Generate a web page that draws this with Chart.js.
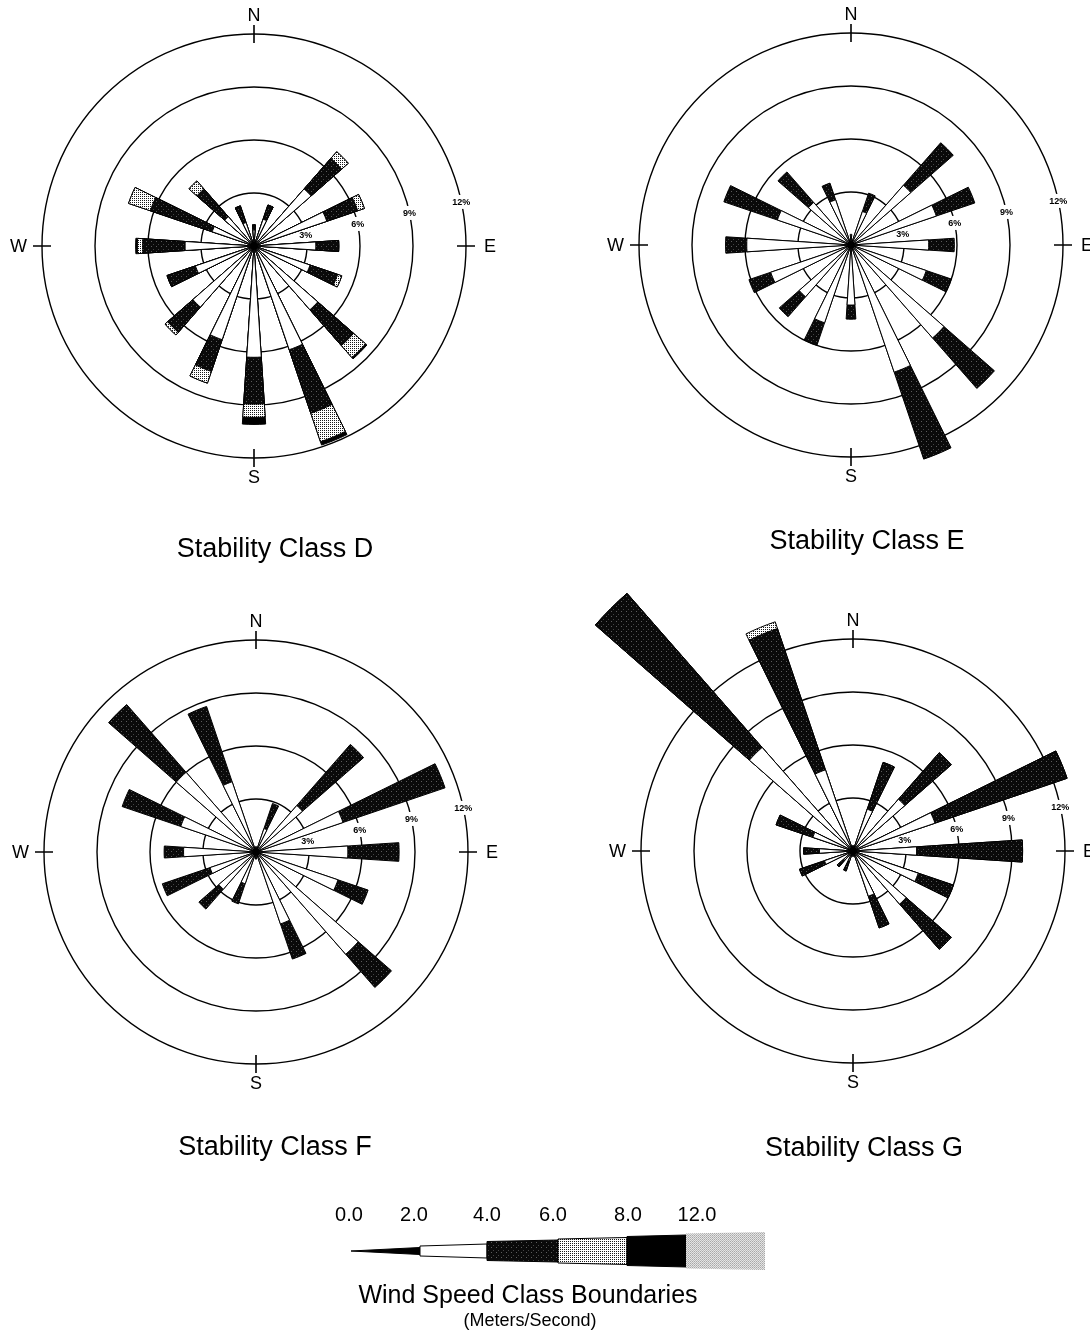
<!DOCTYPE html>
<html>
<head>
<meta charset="utf-8">
<script src="https://cdn.jsdelivr.net/npm/chart.js@4.4.1/dist/chart.umd.min.js"></script>
<style>
  html, body { margin: 0; padding: 0; background: #fff; }
  body { position: relative; width: 1090px; height: 1336px; overflow: hidden;
         font-family: "Liberation Sans", Arial, Helvetica, sans-serif; color: #000; }
  canvas { position: absolute; }
  .txt { position: absolute; transform: translate(-50%, -50%); white-space: nowrap; line-height: 1; }
  .title { font-size: 27px; }
  .num { font-size: 20px; }
  .ltitle { font-size: 25px; }
  .lsub { font-size: 18px; }
</style>
</head>
<body>
<canvas id="roseD" width="545" height="575" style="left:0;top:0"></canvas>
<canvas id="roseE" width="545" height="575" style="left:545px;top:0"></canvas>
<canvas id="roseF" width="545" height="600" style="left:0;top:575px"></canvas>
<canvas id="roseG" width="545" height="600" style="left:545px;top:575px"></canvas>
<canvas id="speedKey" width="450" height="60" style="left:330px;top:1221px"></canvas>

<div class="txt title" style="left:275px;top:548px">Stability Class D</div>
<div class="txt title" style="left:867px;top:540px">Stability Class E</div>
<div class="txt title" style="left:275px;top:1146px">Stability Class F</div>
<div class="txt title" style="left:864px;top:1147px">Stability Class G</div>
<div id="keyNums"></div>
<div class="txt ltitle" style="left:528px;top:1294px">Wind Speed Class Boundaries</div>
<div class="txt lsub" style="left:530px;top:1320px">(Meters/Second)</div>

<script>
// Compass sectors, clockwise from north
const directions = ['N','NNE','NE','ENE','E','ESE','SE','SSE','S','SSW','SW','WSW','W','WNW','NW','NNW'];
// Wind speed classes (m/s) and their boundaries shown in the key
const speedClasses = ['0.0-2.0','2.0-4.0','4.0-6.0','6.0-8.0','8.0-12.0','>12.0'];
const speedBounds = ['0.0','2.0','4.0','6.0','8.0','12.0'];
// Frequency rings (percent)
const ringTicks = [3, 6, 9, 12];

// Stability Class D: percent frequency per direction, by speed class
const classD_0to2  = [0.2,0.2,0.2,0.2,0.2,0.2,0.2,0.2,0.2,0.2,0.2,0.2,0.2,0.2,0.2,0.2];
const classD_2to4  = [0.7,1.4,4.1,4.15,3.3,3.15,4.6,6.0,6.1,5.4,4.4,3.3,3.7,2.3,2.0,1.2];
const classD_4to6  = [0.3,0.85,2.3,1.85,1.3,1.65,2.7,3.8,2.65,1.9,1.9,1.7,2.4,3.7,2.1,1.0];
const classD_6to8  = [0,0,0.5,0.4,0,0.25,0.9,1.7,0.75,0.7,0.2,0,0.3,1.3,0.6,0];
const classD_8to12 = [0,0,0,0,0,0,0.1,0.2,0.4,0,0,0,0.1,0,0,0];

// Stability Class E
const classE_0to2  = [0.2,0.2,0.2,0.2,0.2,0.2,0.2,0.2,0.2,0.2,0.2,0.2,0.2,0.2,0.2,0.2];
const classE_2to4  = [0.4,1.8,4.3,4.9,4.2,4.3,6.8,7.4,3.2,4.45,3.7,4.6,5.7,4.2,3.0,2.5];
const classE_4to6  = [0,1.1,3.2,2.3,1.45,1.5,3.8,5.2,0.8,1.35,1.5,1.3,1.2,3.2,2.3,1.0];

// Stability Class F
const classF_0to2  = [0.2,0.2,0.2,0.2,0.2,0.2,0.2,0.2,0.2,0.2,0.2,0.2,0.2,0.2,0.2,0.2];
const classF_2to4  = [0.1,1.2,3.3,5.0,5.0,4.7,7.5,4.1,0.2,1.7,2.6,2.55,3.9,4.3,5.8,4.0];
const classF_4to6  = [0,1.5,4.6,6.1,2.9,1.8,2.5,2.1,0,1.2,1.5,2.85,1.1,3.5,5.1,4.5];

// Stability Class G
const classG_0to2  = [0.2,0.2,0.2,0.2,0.2,0.2,0.2,0.2,0.2,0.2,0.2,0.2,0.2,0.2,0.2,0.2];
const classG_2to4  = [0.1,2.3,3.7,4.7,3.4,3.7,3.8,2.5,0.1,0.4,0.5,1.5,1.7,2.2,7.6,4.65];
const classG_4to6  = [0,2.8,3.5,7.9,6.0,2.1,3.4,1.9,0,0.6,0.5,1.5,0.9,2.2,11.6,8.45];
const classG_6to8  = [0,0,0,0,0,0,0,0,0,0,0,0,0,0,0,0.4];

const WEDGE_DEG = 7.5;                      // angular width of each petal
const SECTOR_DEG = 360 / directions.length; // 22.5

// ---- fills for the speed classes ----
function makePattern(size, base, dots) {
  const c = document.createElement('canvas');
  c.width = c.height = size;
  const g = c.getContext('2d');
  g.fillStyle = base; g.fillRect(0, 0, size, size);
  dots.forEach(([x, y, col]) => { g.fillStyle = col; g.fillRect(x, y, 1, 1); });
  return g.createPattern(c, 'repeat');
}
const darkStipple = makePattern(5, '#0a0a0a', [[1,1,'#5c5c5c'],[3,4,'#444']]);
const dotScreen   = makePattern(2, '#ffffff', [[0,0,'#1a1a1a']]);
const lightScreen = makePattern(2, '#e4e4e4', [[0,0,'#a8a8a8'],[1,1,'#bcbcbc']]);
const classFills = ['#000000', '#ffffff', darkStipple, dotScreen, '#000000', lightScreen];

// ---- rings, ring labels and compass marks ----
const roseDecor = {
  id: 'roseDecor',
  beforeDatasetsDraw(chart) {
    const s = chart.scales.r;
    const ctx = chart.ctx;
    const cx = s.xCenter, cy = s.yCenter, R = s.drawingArea;
    ctx.save();
    // ring labels sit in a gap on each ring, east-north-east of centre
    const a = 78 * Math.PI / 180;
    ctx.font = 'bold 9px "Liberation Sans", Arial, sans-serif';
    ctx.textAlign = 'center';
    ctx.textBaseline = 'middle';
    ringTicks.forEach(v => {
      const r = s.getDistanceFromCenterForValue(v);
      const x = cx + r * Math.sin(a), y = cy - r * Math.cos(a);
      const label = v + '%';
      const w = ctx.measureText(label).width;
      ctx.fillStyle = '#fff';
      ctx.fillRect(x - w / 2 - 1, y - 7, w + 2, 14);
      ctx.fillStyle = '#000';
      ctx.fillText(label, x, y + 0.5);
    });
    // compass crosses on the outer ring
    ctx.strokeStyle = '#000';
    ctx.lineWidth = 1.6;
    ctx.beginPath();
    ctx.moveTo(cx, cy - R - 9); ctx.lineTo(cx, cy - R + 9);
    ctx.moveTo(cx, cy + R - 9); ctx.lineTo(cx, cy + R + 9);
    ctx.moveTo(cx - R - 9, cy); ctx.lineTo(cx - R + 9, cy);
    ctx.moveTo(cx + R - 9, cy); ctx.lineTo(cx + R + 9, cy);
    ctx.stroke();
    ctx.font = '18px "Liberation Sans", Arial, sans-serif';
    ctx.fillStyle = '#000';
    ctx.textAlign = 'center';
    ctx.fillText('N', cx, cy - R - 18);
    ctx.fillText('S', cx, cy + R + 20);
    ctx.textAlign = 'right';
    ctx.fillText('W', cx - R - 15, cy + 1);
    ctx.textAlign = 'left';
    ctx.fillText('E', cx + R + 18, cy + 1);
    ctx.restore();
  }
};

// Each direction becomes three arcs: gap, petal, gap; the petal is centred on its bearing.
function expand(vals) { return vals.flatMap(v => [0, v, 0]); }
const arcLabels = directions.flatMap(d => ['', d, '']);

function buildRose(id, box, center, R, classArrays) {
  let run = new Array(directions.length).fill(0);
  const cumulative = classArrays.map(arr => (run = run.map((v, i) => v + arr[i])));
  const datasets = cumulative.map((vals, k) => ({
    label: speedClasses[k],
    data: expand(vals),
    backgroundColor: classFills[k],
    borderColor: '#000',
    borderWidth: c => (c.dataIndex % 3 === 1 ? 1 : 0),
    angle: c => (c.dataIndex % 3 === 1 ? WEDGE_DEG : (SECTOR_DEG - WEDGE_DEG) / 2),
    clip: false
  }));
  return new Chart(document.getElementById(id), {
    type: 'polarArea',
    data: { labels: arcLabels, datasets },
    options: {
      responsive: false,
      animation: false,
      events: [],
      layout: { padding: {
        left: center[0] - box[0] - R,
        top: center[1] - box[1] - R,
        right: box[0] + box[2] - (center[0] + R),
        bottom: box[1] + box[3] - (center[1] + R)
      } },
      plugins: { legend: { display: false }, tooltip: { enabled: false } },
      scales: {
        r: {
          min: 0, max: 12,
          startAngle: -SECTOR_DEG / 2,
          ticks: { display: false, stepSize: 3 },
          grid: { color: '#000', lineWidth: 1.4, circular: true },
          angleLines: { display: false },
          pointLabels: { display: false }
        }
      }
    },
    plugins: [roseDecor]
  });
}

const R = 212;
buildRose('roseD', [0, 0, 545, 575], [254, 246], R,
  [classD_0to2, classD_2to4, classD_4to6, classD_6to8, classD_8to12]);
buildRose('roseE', [545, 0, 545, 575], [851, 245], R,
  [classE_0to2, classE_2to4, classE_4to6]);
buildRose('roseF', [0, 575, 545, 600], [256, 852], R,
  [classF_0to2, classF_2to4, classF_4to6]);
buildRose('roseG', [545, 575, 545, 600], [853, 851], R,
  [classG_0to2, classG_2to4, classG_4to6, classG_6to8]);

// ---- speed class key: a stepped, tapering petal ----
(function drawKey() {
  const ctx = document.getElementById('speedKey').getContext('2d');
  const ox = 330, oy = 1221, cy = 1251 - oy;
  // [x start, x end, half height at start, half height at end] for each class
  const segs = [
    [351, 420, 0, 3.5], [420, 487, 5, 7], [487, 558, 9.5, 11],
    [558, 627, 12, 13.5], [627, 686, 14.5, 16], [686, 765, 17.5, 19]
  ];
  segs.forEach((s, k) => {
    const x0 = s[0] - ox, x1 = s[1] - ox;
    ctx.beginPath();
    ctx.moveTo(x0, cy - s[2]); ctx.lineTo(x1, cy - s[3]);
    ctx.lineTo(x1, cy + s[3]); ctx.lineTo(x0, cy + s[2]);
    ctx.closePath();
    ctx.fillStyle = classFills[k];
    ctx.fill();
    if (k < 5) { ctx.strokeStyle = '#000'; ctx.lineWidth = 1; ctx.stroke(); }
  });
  const xs = [349, 414, 487, 553, 628, 697];
  const holder = document.getElementById('keyNums');
  speedBounds.forEach((b, i) => {
    const d = document.createElement('div');
    d.className = 'txt num';
    d.style.left = xs[i] + 'px';
    d.style.top = '1214px';
    d.textContent = b;
    holder.appendChild(d);
  });
})();
</script>
</body>
</html>
